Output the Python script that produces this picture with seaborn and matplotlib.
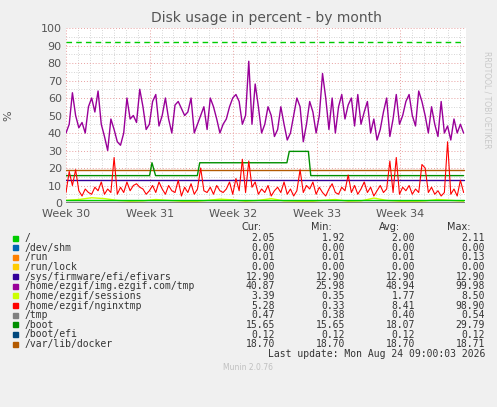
import numpy as np
import matplotlib
matplotlib.use("Agg")
import matplotlib.pyplot as plt
import seaborn as sns
from matplotlib.ticker import MultipleLocator

# purple series: /home/ezgif/img.ezgif.com/tmp
img_tmp = [40, 45, 63, 50, 43, 46, 40, 55, 60, 52, 64, 45, 38, 30, 48, 42, 35, 33, 40, 60,
           48, 50, 46, 65, 55, 42, 45, 58, 62, 44, 50, 60, 48, 40, 56, 58, 54, 50, 52, 60,
           40, 45, 50, 55, 42, 60, 55, 48, 40, 45, 48, 55, 60, 62, 58, 45, 50, 81, 45, 68,
           55, 40, 45, 55, 50, 38, 42, 55, 45, 36, 40, 50, 60, 55, 35, 45, 58, 52, 40, 50,
           74, 60, 42, 60, 40, 55, 62, 48, 56, 60, 44, 62, 45, 52, 58, 40, 48, 36, 42, 52,
           60, 38, 48, 62, 45, 50, 58, 62, 50, 44, 64, 58, 50, 40, 55, 45, 38, 58, 40, 44,
           36, 48, 40, 45, 40]
# red series: /home/ezgif/nginxtmp
nginx = [6, 18, 10, 19, 7, 4, 8, 6, 5, 9, 7, 12, 5, 8, 6, 26, 5, 9, 6, 12,
         7, 10, 11, 9, 8, 5, 7, 10, 6, 12, 8, 5, 10, 7, 6, 13, 4, 9, 6, 11,
         5, 8, 20, 7, 6, 9, 5, 10, 7, 6, 8, 12, 5, 14, 7, 25, 6, 24, 9, 12,
         5, 8, 6, 10, 4, 7, 9, 6, 12, 5, 8, 4, 7, 19, 6, 10, 8, 12, 5, 9,
         6, 4, 8, 11, 6, 5, 9, 7, 16, 6, 10, 5, 8, 12, 6, 9, 4, 7, 10, 6,
         8, 24, 6, 26, 5, 9, 7, 10, 5, 8, 6, 22, 20, 6, 9, 5, 7, 4, 6, 35,
         5, 8, 4, 13, 6]
sessions = [1.5, 2.0, 3.0, 2.5, 1.5, 1.0, 1.2, 2.0, 1.5, 1.0, 0.8, 1.5, 2.2, 1.8, 1.0, 1.5,
            2.5, 1.2, 1.0, 0.8, 1.5, 2.0, 1.0, 1.2, 2.8, 1.5, 1.0, 0.8, 1.2, 2.0, 1.5, 1.0]
boot_days = [0, 7.0, 7.2, 7.5, 11.0, 11.2, 18.5, 18.7, 20.3, 20.5, 33.3]
boot_vals = [15.65, 15.65, 23, 15.65, 15.65, 23, 23, 29.5, 29.5, 15.65, 15.65]

names = ["/", "/dev/shm", "/run", "/run/lock", "/sys/firmware/efi/efivars",
         "/home/ezgif/img.ezgif.com/tmp", "/home/ezgif/sessions", "/home/ezgif/nginxtmp",
         "/tmp", "/boot", "/boot/efi", "/var/lib/docker"]
colors = ["#00CC00", "#0066B3", "#FF8000", "#FFCC00", "#330099", "#990099",
          "#CCFF00", "#FF0000", "#808080", "#008F00", "#00487D", "#B35A00"]
cur = ["2.05", "0.00", "0.01", "0.00", "12.90", "40.87", "3.39", "5.28", "0.47", "15.65", "0.12", "18.70"]
mn = ["1.92", "0.00", "0.01", "0.00", "12.90", "25.98", "0.35", "0.33", "0.38", "15.65", "0.12", "18.70"]
avg = ["2.00", "0.00", "0.01", "0.00", "12.90", "48.94", "1.77", "8.41", "0.40", "18.07", "0.12", "18.70"]
mx = ["2.11", "0.00", "0.13", "0.00", "12.90", "99.98", "8.50", "98.90", "0.54", "29.79", "0.12", "18.71"]
week_labels = ["Week 30", "Week 31", "Week 32", "Week 33", "Week 34"]

sns.set_style("white")
plt.rcParams["font.family"] = ["DejaVu Sans"]
fig = plt.figure(figsize=(4.97, 4.07), dpi=100, facecolor="#F0F0F0")
ax = fig.add_axes([66 / 497, 1 - 203 / 407, 400 / 497, 175 / 407])
ax.set_facecolor("white")
end = 33.3
tx = np.linspace(0, end, len(img_tmp))
rx = np.linspace(0, end, len(nginx))
sx = np.linspace(0, end, len(sessions))
flat = lambda v: ([0, end], [v, v])

ax.plot(*flat(92), color="#00CC00", lw=1, ls=(0, (4, 3)))
ax.plot(*flat(18.7), color=colors[11], lw=1)
ax.plot(*flat(12.9), color=colors[4], lw=1)
sns.lineplot(x=boot_days, y=boot_vals, color=colors[9], lw=1, ax=ax)
sns.lineplot(x=tx, y=img_tmp, color=colors[5], lw=1, ax=ax)
sns.lineplot(x=rx, y=nginx, color=colors[7], lw=0.8, ax=ax)
sns.lineplot(x=sx, y=sessions, color=colors[6], lw=1, ax=ax)
ax.plot(*flat(2.0), color=colors[0], lw=1)
ax.plot(*flat(0.45), color=colors[8], lw=1)

ax.set_xlim(0, 33.5)
ax.set_ylim(0, 100)
ax.set_xticks([0, 7, 14, 21, 28])
ax.set_xticklabels(week_labels)
ax.xaxis.set_minor_locator(MultipleLocator(1))
ax.yaxis.set_major_locator(MultipleLocator(10))
ax.yaxis.set_minor_locator(MultipleLocator(5))
ax.grid(which="minor", color="#C8C8C8", ls=(0, (1, 2)), lw=0.6)
ax.grid(which="major", color="#E8A0A0", ls=(0, (1, 2)), lw=0.7)
ax.tick_params(labelsize=8, colors="#555555", length=0)
ax.tick_params(axis="x", pad=4)
ax.tick_params(axis="y", pad=3)
for s in ax.spines.values():
    s.set_visible(False)
ax.set_ylabel("%", fontsize=8, color="#555555", labelpad=20)
ax.set_title("Disk usage in percent - by month", fontsize=10, color="#555555", pad=4)

fs = 7
fig.text(0.98, 1 - 100 / 407, "RRDTOOL / TOBI OETIKER", rotation=270, fontsize=5.5,
         color="#C8C8C8", ha="center", va="center")
for x, h in zip([262, 332, 400, 470], ["Cur:", "Min:", "Avg:", "Max:"]):
    fig.text(x / 497, 1 - 227 / 407, h, fontsize=fs, color="#333333", ha="right", va="center")
for i, n in enumerate(names):
    y = 1 - (238 + i * 9.65) / 407
    fig.patches.append(plt.Rectangle((13 / 497, y - 2.5 / 407), 5 / 497, 5 / 407,
                                     color=colors[i], transform=fig.transFigure))
    fig.text(25 / 497, y, n, fontsize=fs, color="#333333", va="center", family="DejaVu Sans Mono")
    for x, v in zip([275, 345, 415, 485], [cur[i], mn[i], avg[i], mx[i]]):
        fig.text(x / 497, y, v, fontsize=fs, color="#333333", ha="right", va="center",
                 family="DejaVu Sans Mono")
fig.text(485 / 497, 1 - 354 / 407, "Last update: Mon Aug 24 09:00:03 2026", fontsize=fs,
         color="#333333", ha="right", va="center", family="DejaVu Sans Mono")
fig.text(248 / 497, 1 - 368 / 407, "Munin 2.0.76", fontsize=5.5, color="#C0C0C0",
         ha="center", va="center")
fig.savefig("out.png", dpi=100, facecolor=fig.get_facecolor())
